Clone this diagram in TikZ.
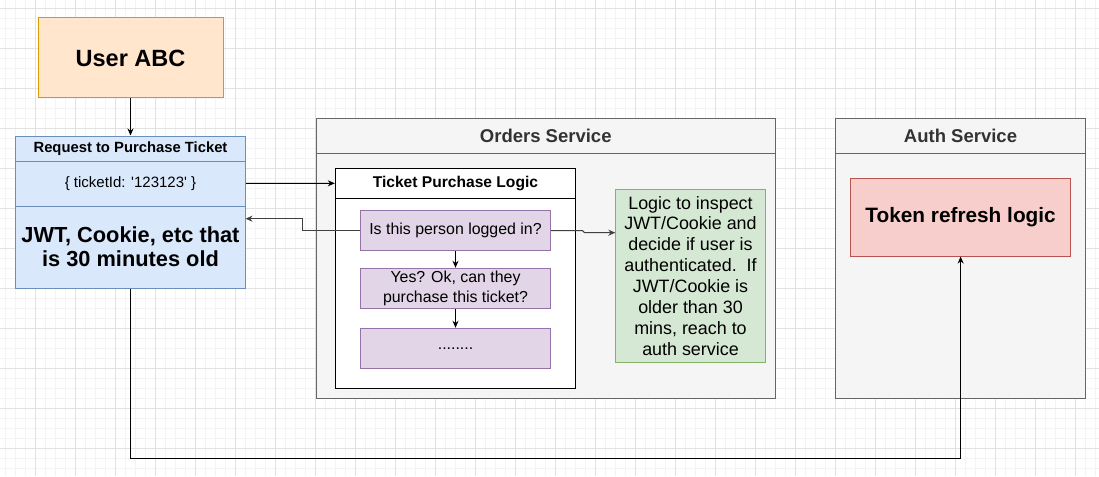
\documentclass[tikz,border=0pt]{standalone}
\usepackage{fontspec}
\setmainfont{Liberation Sans}
\usetikzlibrary{arrows.meta}
\definecolor{orF}{HTML}{FFE6CC}\definecolor{orS}{HTML}{D79B00}
\definecolor{blF}{HTML}{DAE8FC}\definecolor{blS}{HTML}{6C8EBF}
\definecolor{grF}{HTML}{F5F5F5}\definecolor{grS}{HTML}{666666}
\definecolor{gnF}{HTML}{D5E8D4}\definecolor{gnS}{HTML}{82B366}
\definecolor{rdF}{HTML}{F8CECC}\definecolor{rdS}{HTML}{B85450}
\definecolor{puF}{HTML}{E1D5E7}\definecolor{puS}{HTML}{9673A6}
\definecolor{txG}{HTML}{333333}
\definecolor{gridMin}{HTML}{F3F3F3}\definecolor{gridMaj}{HTML}{E2E2E2}
\tikzset{
  box/.style={draw, line width=1pt, rectangle, inner sep=0pt, align=center},
  orbox/.style={box, fill=orF, draw=orS},
  blbox/.style={box, fill=blF, draw=blS},
  grbox/.style={box, fill=grF, draw=grS},
  gnbox/.style={box, fill=gnF, draw=gnS},
  rdbox/.style={box, fill=rdF, draw=rdS},
  pubox/.style={box, fill=puF, draw=puS},
  whbox/.style={box, fill=white, draw=black},
  arr/.style={line width=1pt, -{Stealth[length=7pt,width=6pt]}},
  garr/.style={line width=1pt, draw=black!75, -{Stealth[length=7pt,width=6pt]}},
  title/.style={inner sep=0pt, font=\fontsize{18.5}{22}\selectfont\bfseries, text=txG},
}
\begin{document}
\begin{tikzpicture}[x=1pt,y=-1pt]
\useasboundingbox (0,0) rectangle (1099,476);
\fill[white] (0,0) rectangle (1099,476);
% grid
\foreach \x in {5.5,15.5,...,1096}{\draw[gridMin,line width=1pt] (\x,0) -- (\x,476);}
\foreach \y in {8.3,18.3,...,476}{\draw[gridMin,line width=1pt] (0,\y) -- (1099,\y);}
\foreach \x in {35.5,75.5,...,1096}{\draw[gridMaj,line width=1pt] (\x,0) -- (\x,476);}
\foreach \y in {8.3,48.3,...,476}{\draw[gridMaj,line width=1pt] (0,\y) -- (1099,\y);}

% user
\node[orbox, minimum width=185pt, minimum height=80pt, font=\fontsize{23.5}{28}\selectfont\bfseries] (user) at (130.5,58) {User ABC};

% request
\node[blbox, minimum width=230pt, minimum height=25pt, font=\fontsize{14.8}{17}\selectfont\bfseries] (reqh) at (130.5,148.5) {Request to Purchase Ticket};
\node[blbox, minimum width=230pt, minimum height=45pt, font=\fontsize{15}{18}\selectfont] (reqm) at (130.5,183.5) {\{ ticketId: \textquotesingle 123123\textquotesingle\ \}};
\node[blbox, minimum width=230pt, minimum height=82pt, font=\fontsize{21.8}{24.3}\selectfont\bfseries] (reqb) at (130.5,247) {JWT, Cookie, etc that\\is 30 minutes old};

% services
\node[grbox, minimum width=459.5pt, minimum height=279.5pt] (orders) at (545.75,258.25) {};
\draw[grS, line width=1pt] (316,153.3) -- (775.5,153.3);
\node[title] (ordt) at (545.75,136) {Orders Service};
\node[grbox, minimum width=250pt, minimum height=279.5pt] (auth) at (960.5,258.25) {};
\draw[grS, line width=1pt] (835.5,153.3) -- (1085.5,153.3);
\node[title] (autht) at (960.5,136) {Auth Service};

% ticket purchase logic
\node[whbox, minimum width=240.2pt, minimum height=30pt, font=\fontsize{15.6}{18}\selectfont\bfseries] (tplh) at (455.4,183.3) {Ticket Purchase Logic};
\node[whbox, minimum width=240.2pt, minimum height=190pt] (tplb) at (455.4,293.3) {};

\node[pubox, minimum width=190pt, minimum height=40pt, font=\fontsize{15.9}{19.3}\selectfont] (p1) at (455.5,230.7) {Is this person logged in?};
\node[pubox, minimum width=190pt, minimum height=40pt, font=\fontsize{15.9}{19.3}\selectfont] (p2) at (455.5,288.3) {Yes? Ok, can they\\purchase this ticket?};
\node[pubox, minimum width=190pt, minimum height=40pt, font=\fontsize{15.9}{19.3}\selectfont] (p3) at (455.5,348.3) {........};

% green
\node[gnbox, minimum width=150.3pt, minimum height=173pt, font=\fontsize{17.9}{20.9}\selectfont] (green) at (690.5,275.8) {Logic to inspect\\JWT/Cookie and\\decide if user is\\authenticated.\ \ If\\JWT/Cookie is\\older than 30\\mins, reach to\\auth service};

% token
\node[rdbox, minimum width=220.3pt, minimum height=77.7pt, font=\fontsize{20.8}{24}\selectfont\bfseries] (tok) at (960.6,217.2) {Token refresh logic};

% connectors
\draw[arr] (user.south) -- (reqh.north);
\draw[arr] (reqm.east) -- (tplh.west);
\coordinate (retEnd) at (245.5,218.7);
\draw[garr] (p1.west) -- (302.7,230.7) -- (302.7,218.7) -- (retEnd);
\coordinate (grIn) at (615.3,232.7);
\draw[garr] (p1.east) -- (582.5,230.7) -- (584.5,232.7) -- (grIn);
\draw[arr] (p1.south) -- (p2.north);
\draw[arr] (p2.south) -- (p3.north);
\draw[arr] (reqb.south) -- ++(0,170) -| (tok.south);
\end{tikzpicture}
\end{document}
